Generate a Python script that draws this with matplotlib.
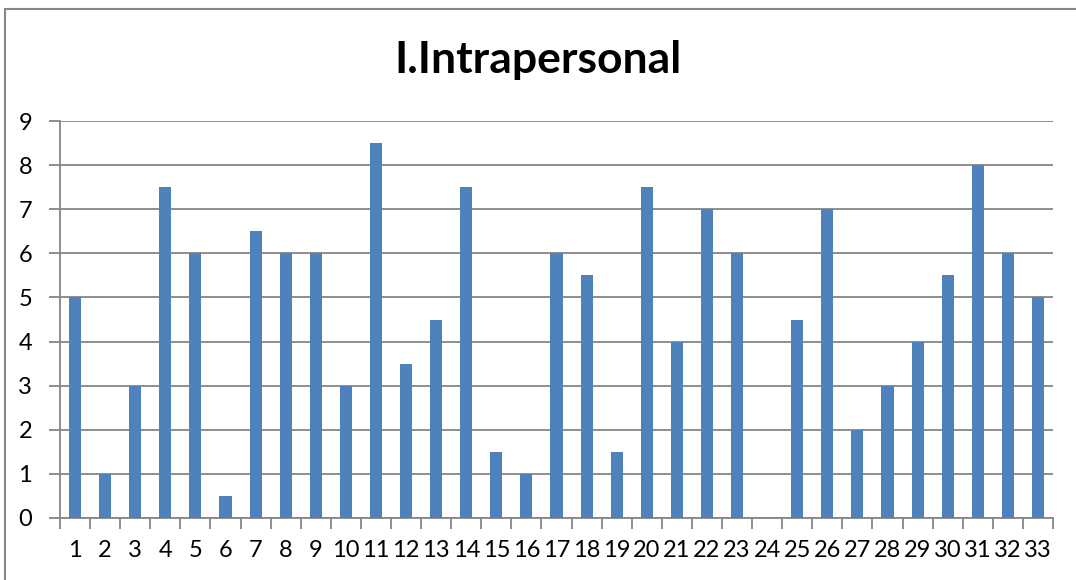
import numpy as np
import matplotlib.pyplot as plt
from matplotlib.patches import Rectangle

# données du graphique
categories = [str(i) for i in range(1, 34)]
valeurs = [5, 1, 3, 7.5, 6, 0.5, 6.5, 6, 6, 3, 8.5, 3.5, 4.5, 7.5, 1.5, 1,
           6, 5.5, 1.5, 7.5, 4, 7, 6, 0, 4.5, 7, 2, 3, 4, 5.5, 8, 6, 5]
titre = "I.Intrapersonal"

plt.rcParams['font.family'] = ['Lato', 'DejaVu Sans']

fig = plt.figure(figsize=(10.76, 5.8), dpi=100)
ax = fig.add_axes([60/1076, 62/580, 993/1076, 397/580])

x = np.arange(len(categories))
ax.bar(x, valeurs, width=0.4, color='#4F81BD', zorder=3)

ax.set_xlim(-0.5, len(categories) - 0.5)
ax.set_ylim(0, 9)
ax.set_yticks(range(0, 10))
ax.yaxis.grid(True, color='#868686', linewidth=1.3, zorder=0)

# ticks aux frontieres des categories
ax.set_xticks(np.arange(-0.5, len(categories)), minor=False)
ax.set_xticklabels([])
ax.set_xticks(x, minor=True)
ax.set_xticklabels(categories, minor=True)
ax.tick_params(axis='x', which='major', direction='out', length=8, color='#868686', width=1.3)
ax.tick_params(axis='x', which='minor', length=0, pad=16, labelsize=17)
ax.tick_params(axis='y', direction='out', length=8, color='#868686', width=1.3, labelsize=17, pad=12)

for s in ['top', 'right']:
    ax.spines[s].set_visible(False)
for s in ['left', 'bottom']:
    ax.spines[s].set_color('#868686')
    ax.spines[s].set_linewidth(1.3)

fig.text(0.5, 1 - 60/580, titre, ha='center', va='center', fontsize=32, fontweight='bold')

# bordure du cadre
fig.patches.append(Rectangle((5/1076, -0.1), 1.2, 1 - 9/580 + 0.1, transform=fig.transFigure,
                             fill=False, edgecolor='#868686', linewidth=1.5))

fig.savefig('out.png', dpi=100)
